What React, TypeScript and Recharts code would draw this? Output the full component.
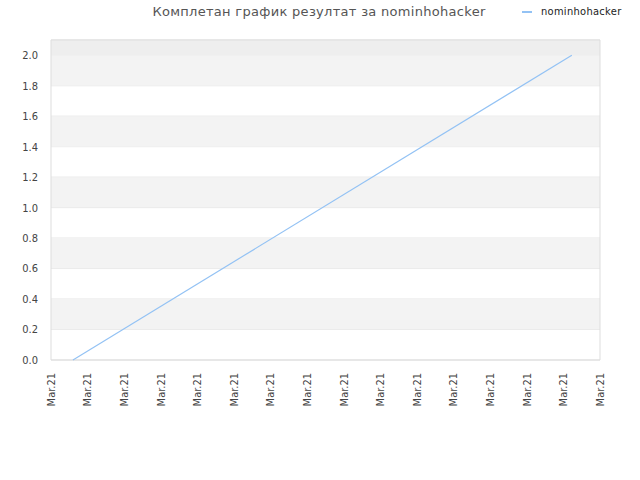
import React from 'react';
import {
  LineChart, Line, XAxis, YAxis, CartesianGrid, ReferenceArea,
} from 'recharts';

// x positions are in tick units (16 "Mar.21" ticks, 0..15)
const xValues = [0.6, 14.23];
const scores = [0, 2];
const xTicks = [0, 1, 2, 3, 4, 5, 6, 7, 8, 9, 10, 11, 12, 13, 14, 15];
const xTickLabels = xTicks.map(() => 'Mar.21');
const yTicks = [0, 0.2, 0.4, 0.6, 0.8, 1.0, 1.2, 1.4, 1.6, 1.8, 2.0];
const shadedBands: [number, number][] = [[0.2, 0.4], [0.6, 0.8], [1.0, 1.2], [1.4, 1.6], [1.8, 2.0]];

const TITLE = 'Комплетан график резултат за nominhohacker';
const SERIES = 'nominhohacker';
const LINE_COLOR = '#93c2f4';
const TICK_FONT = '"DejaVu Sans Condensed", "DejaVu Sans", sans-serif';

const data = xValues.map((x, i) => ({ x, score: scores[i] }));

function XTick({ x, y, index }: { x?: number; y?: number; index?: number }) {
  return (
    <text
      transform={`translate(${x},${(y ?? 0) + 5}) rotate(-90)`}
      textAnchor="end"
      dy="0.35em"
      fontSize={11}
      fill="#444"
      fontFamily={TICK_FONT}
    >
      {xTickLabels[index ?? 0]}
    </text>
  );
}

export default function App() {
  return (
    <div style={{ position: 'absolute', left: 0, top: 0, width: 640, height: 480, background: '#fff' }}>
      <div
        style={{
          position: 'absolute', left: 0, width: 638, top: 4, textAlign: 'center',
          fontFamily: '"DejaVu Sans", sans-serif', fontSize: 13, color: '#555', letterSpacing: 0.3,
        }}
      >
        {TITLE}
      </div>
      <div style={{ position: 'absolute', left: 522, top: 5, display: 'flex', alignItems: 'center' }}>
        <span style={{ display: 'inline-block', width: 10, height: 2, background: LINE_COLOR, marginRight: 9 }} />
        <span style={{ fontFamily: TICK_FONT, fontSize: 11, color: '#222', letterSpacing: 0.3 }}>{SERIES}</span>
      </div>
      <LineChart width={640} height={480} data={data} margin={{ top: 40, right: 40, left: 0, bottom: 0 }}>
        {shadedBands.map(([a, b]) => (
          <ReferenceArea key={a} y1={a} y2={b} fill="#f3f3f3" fillOpacity={1} stroke="none" ifOverflow="hidden" />
        ))}
        <ReferenceArea y1={2.0} y2={2.1} fill="#eeeeee" fillOpacity={1} stroke="none" />
        <CartesianGrid horizontal vertical={false} stroke="#e2e2e2" />
        <ReferenceArea x1={0} x2={15} y1={0} y2={2.1} fill="none" stroke="#dddddd" strokeWidth={1} />
        <XAxis
          dataKey="x"
          type="number"
          domain={[0, 15]}
          ticks={xTicks}
          interval={0}
          height={120}
          axisLine={false}
          tickLine={false}
          tick={<XTick />}
        />
        <YAxis
          type="number"
          domain={[0, 2.1]}
          ticks={yTicks}
          width={51}
          axisLine={false}
          tickLine={false}
          tickSize={11}
          tickMargin={2}
          tickFormatter={(v: number) => v.toFixed(1)}
          tick={{ fontSize: 11, fill: '#444', fontFamily: TICK_FONT }}
        />
        <Line
          type="linear"
          dataKey="score"
          stroke={LINE_COLOR}
          strokeWidth={1.2}
          dot={false}
          isAnimationActive={false}
        />
      </LineChart>
    </div>
  );
}
